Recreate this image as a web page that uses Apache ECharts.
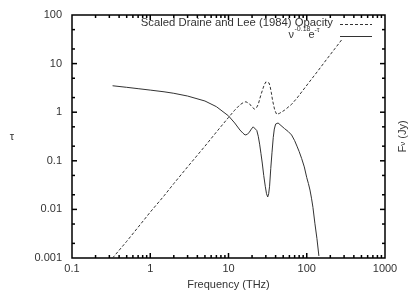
<!DOCTYPE html>
<html>
<head>
<meta charset="utf-8">
<script src="https://cdn.jsdelivr.net/npm/echarts@6/dist/echarts.min.js"></script>
<style>html,body{margin:0;padding:0;background:#fff;}#c{width:409px;height:293px;}</style>
</head>
<body>
<div id="c"></div>
<script>
// Scaled Draine and Lee (1984) opacity, tau vs frequency (THz)
var freqTau = [0.33,0.5,0.7,1,1.5,2,3,5,7,10,12,14,15.5,16.7,17.7,18.5,19.8,21.4,22.7,24,26,28.5,30,31.7,33,34,35.3,36.5,39,41.3,43,45,52,64,75,90,110,140,180,230,280];
var tau     = [0.001,0.0022,0.0043,0.0088,0.019,0.034,0.075,0.2,0.39,0.78,1.1,1.42,1.58,1.64,1.6,1.5,1.3,1.16,1.22,1.45,2.3,3.6,4.2,4.45,4.0,3.4,2.5,1.78,1.1,0.9,0.9,0.95,1.1,1.45,1.95,2.86,4.36,7.2,12.3,20.5,31];
// nu^-0.18 e^-tau (F_nu, Jy)
var freqFlux = [0.33,0.5,0.7,1,1.5,2,3,5,7,10,12,14,15.3,16.3,17.4,18.5,19.6,20.7,21.8,23,24,25,26,27,28.2,29.5,30.6,31.7,32.6,33.5,34.7,36,37.3,38.5,40,41.3,43,45,52,58,64,70,75,80,86,93,100,105,110,115,120,127,135,143];
var flux     = [3.5,3.25,3.05,2.85,2.63,2.45,2.15,1.7,1.3,0.84,0.6,0.43,0.37,0.34,0.35,0.39,0.45,0.5,0.49,0.42,0.32,0.22,0.14,0.09,0.05,0.03,0.021,0.018,0.021,0.03,0.07,0.15,0.3,0.45,0.57,0.61,0.6,0.56,0.46,0.4,0.34,0.26,0.2,0.155,0.112,0.075,0.045,0.034,0.025,0.017,0.011,0.0052,0.0025,0.0011];
// axis ticks and tick labels
var xTickValues = [0.1,1,10,100,1000];
var xTickLabels = ['0.1','1','10','100','1000'];
var yTickValues = [0.001,0.01,0.1,1,10,100];
var yTickLabels = ['0.001','0.01','0.1','1','10','100'];
var xMajorTicks = [1,10,100];
var yMajorTicks = [0.01,0.1,1,10];
var xMinorTicks = [0.2,0.3,0.4,0.5,0.6,0.7,0.8,0.9,2,3,4,5,6,7,8,9,20,30,40,50,60,70,80,90,200,300,400,500,600,700,800,900];
var yMinorTicks = [0.002,0.005,0.02,0.05,0.2,0.5,2,5,20,50];

var FONT = 'Liberation Sans, Arial, Helvetica, sans-serif';
var TXT = '#333';
var chart = echarts.init(document.getElementById('c'));

function zip(a, b) { return a.map(function (v, i) { return [v, b[i]]; }); }

function tickSeries(data, dx, dy) {
  return {
    type: 'custom', coordinateSystem: 'cartesian2d', clip: false, z: 6,
    data: data,
    renderItem: function (params, api) {
      var p = api.coord([api.value(0), api.value(1)]);
      return {type: 'line', shape: {x1: p[0], y1: p[1], x2: p[0] + dx, y2: p[1] + dy},
              style: {stroke: '#000', lineWidth: 1.5}};
    }
  };
}
function labelSeries(data, texts, dx, dy, align, vAlign) {
  return {
    type: 'custom', coordinateSystem: 'cartesian2d', clip: false, z: 5,
    data: data,
    renderItem: function (params, api) {
      var p = api.coord([api.value(0), api.value(1)]);
      return {type: 'text', x: p[0] + dx, y: p[1] + dy,
              style: {text: texts[params.dataIndex], fill: TXT, font: '11px ' + FONT, align: align, verticalAlign: vAlign}};
    }
  };
}
function hidden() { return {axisLine: {show: false}, axisTick: {show: false}, splitLine: {show: false}, axisLabel: {show: false}}; }

var option = {
  animation: false,
  backgroundColor: '#fff',
  textStyle: {fontFamily: FONT},
  grid: {left: 72, right: 24, top: 15, bottom: 35, outerBoundsMode: 'none',
         show: true, borderColor: '#000', borderWidth: 1.5, backgroundColor: 'transparent'},
  xAxis: [
    Object.assign({type: 'log', min: 0.1, max: 1000, position: 'bottom',
      name: 'Frequency (THz)', nameLocation: 'middle', nameGap: 21,
      nameTextStyle: {color: TXT, fontSize: 11}}, hidden())
  ],
  yAxis: [
    Object.assign({type: 'log', min: 0.001, max: 100, position: 'left',
      name: 'τ', nameLocation: 'middle', nameGap: 58, nameRotate: 0,
      nameTextStyle: {color: TXT, fontSize: 11}}, hidden()),
    Object.assign({type: 'log', min: 0.001, max: 100, position: 'right',
      name: '{a|F}{s|ν}{a| (Jy)}', nameLocation: 'middle', nameGap: 12, nameRotate: 90,
      nameTextStyle: {rich: {a: {fontSize: 11, color: TXT}, s: {fontSize: 8, color: TXT}}}}, hidden())
  ],
  series: [
    {
      name: 'Scaled Draine and Lee (1984) Opacity', type: 'line', data: zip(freqTau, tau),
      showSymbol: false, z: 3,
      lineStyle: {color: '#333', width: 1, type: [3, 2]}
    },
    {
      name: 'nu^-0.18 e^-tau', type: 'line', data: zip(freqFlux, flux),
      showSymbol: false, z: 3,
      lineStyle: {color: '#333', width: 1, type: 'solid'}
    },
    tickSeries(xMajorTicks.map(function (v) { return [v, 0.001]; }), 0, -5),
    tickSeries(xMajorTicks.map(function (v) { return [v, 100]; }), 0, 5),
    tickSeries(yMajorTicks.map(function (v) { return [0.1, v]; }), 5, 0),
    tickSeries(yMajorTicks.map(function (v) { return [1000, v]; }), -5, 0),
    tickSeries(xMinorTicks.map(function (v) { return [v, 0.001]; }), 0, -3),
    tickSeries(xMinorTicks.map(function (v) { return [v, 100]; }), 0, 3),
    tickSeries(yMinorTicks.map(function (v) { return [0.1, v]; }), 3, 0),
    tickSeries(yMinorTicks.map(function (v) { return [1000, v]; }), -3, 0),
    labelSeries(xTickValues.map(function (v) { return [v, 0.001]; }), xTickLabels, 0, 5, 'center', 'top'),
    labelSeries(yTickValues.map(function (v) { return [0.1, v]; }), yTickLabels, -10, 0, 'right', 'middle')
  ],
  graphic: [
    {type: 'text', x: 333, y: 22.5, style: {text: 'Scaled Draine and Lee (1984) Opacity', fill: TXT, font: '11.3px ' + FONT, align: 'right', verticalAlign: 'middle'}},
    {type: 'line', shape: {x1: 340, y1: 24.5, x2: 372, y2: 24.5}, style: {stroke: '#333', lineWidth: 1, lineDash: [3, 2]}},
    {type: 'text', x: 288.5, y: 34.5, style: {text: 'ν', fill: TXT, font: '11px ' + FONT, align: 'left', verticalAlign: 'middle'}},
    {type: 'text', x: 294.5, y: 29.5, style: {text: '-0.18', fill: TXT, font: '7px ' + FONT, align: 'left', verticalAlign: 'middle'}},
    {type: 'text', x: 308.5, y: 35, style: {text: 'e', fill: TXT, font: '11px ' + FONT, align: 'left', verticalAlign: 'middle'}},
    {type: 'text', x: 314.5, y: 30, style: {text: '-τ', fill: TXT, font: '7px ' + FONT, align: 'left', verticalAlign: 'middle'}},
    {type: 'line', shape: {x1: 340, y1: 36.5, x2: 372, y2: 36.5}, style: {stroke: '#333', lineWidth: 1}}
  ]
};
chart.setOption(option);
</script>
</body>
</html>
